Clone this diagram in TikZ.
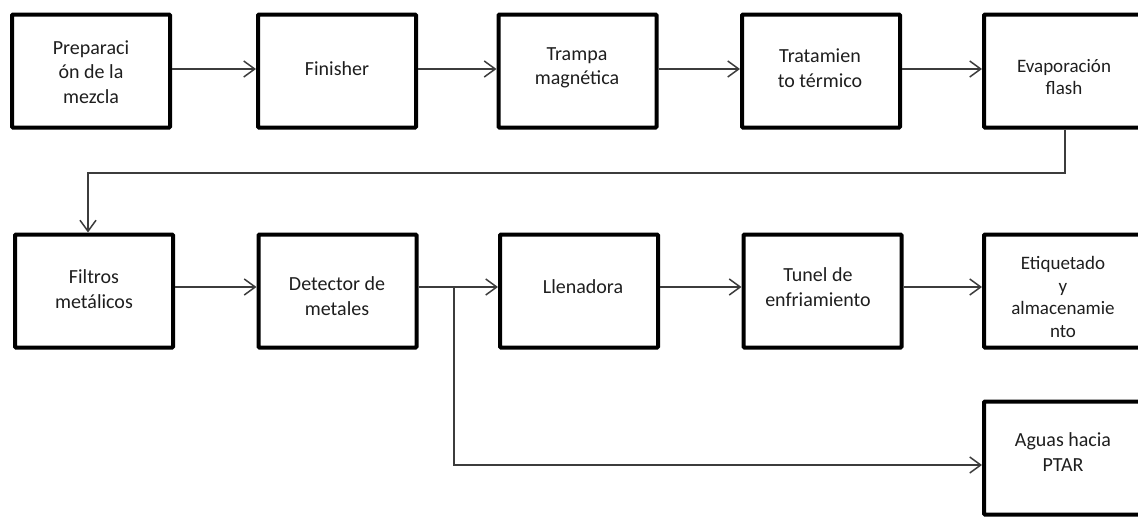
\documentclass[tikz,border=0pt]{standalone}
\usepackage{fontspec}
\setmainfont{Carlito}
\usetikzlibrary{arrows.meta}
\definecolor{linegray}{HTML}{3C3C3C}
\definecolor{inkgray}{HTML}{1E1E1E}
\begin{document}
\begin{tikzpicture}[x=1pt,y=-1pt,
  procbox/.style={draw=black, line width=4pt, rounded corners=1pt,
    minimum width=158pt, minimum height=113pt, inner sep=0pt},
  lbl/.style={align=center, text=inkgray, inner sep=0pt,
    font=\fontsize{20}{24.5}\selectfont},
  smalllbl/.style={lbl, font=\fontsize{19}{22.5}\selectfont},
  flow/.style={draw=linegray, line width=1.5pt,
    -{Straight Barb[length=11pt,width=16pt,line width=1.5pt]}},
  plain/.style={draw=linegray, line width=1.5pt}]
  \useasboundingbox (0,0) rectangle (1138,517);

  % first row of process boxes
  \node[procbox] (prep) at (91,71) {};
  \node[procbox] (fin)  at (337,71) {};
  \node[procbox] (tram) at (577.5,71) {};
  \node[procbox] (trat) at (821,71) {};
  \node[procbox] (evap) at (1063,71) {};

  % second row
  \node[procbox] (filt) at (94,291) {};
  \node[procbox] (det)  at (337.5,291) {};
  \node[procbox] (llen) at (579,291) {};
  \node[procbox] (tun)  at (822.5,291) {};
  \node[procbox] (etiq) at (1063,291) {};

  % third row
  \node[procbox] (agua) at (1063,458) {};

  % box captions
  \node[lbl] (prep-t) at (91,72) {Preparaci\\ón de la\\mezcla};
  \node[lbl] (fin-t)  at (337,69) {Finisher};
  \node[lbl] (tram-t) at (577,68) {Trampa\\magnética};
  \node[lbl] (trat-t) at (820,68) {Tratamien\\to térmico};
  \node[smalllbl] (evap-t) at (1064,77) {Evaporación\\flash};
  \node[lbl] (filt-t) at (94,289) {Filtros\\metálicos};
  \node[lbl] (det-t)  at (337,296) {Detector de\\metales};
  \node[lbl] (llen-t) at (583,287) {Llenadora};
  \node[lbl] (tun-t)  at (818,287) {Tunel de\\enfriamiento};
  \node[smalllbl] (etiq-t) at (1063,297) {Etiquetado\\y\\almacenamie\\nto};
  \node[lbl] (agua-t) at (1063,452) {Aguas hacia\\PTAR};

  % first row connectors
  \draw[flow] ([yshift=2pt]prep.east) -- ([yshift=2pt]fin.west);
  \draw[flow] ([yshift=2pt]fin.east) -- ([yshift=2pt]tram.west);
  \draw[flow] ([yshift=2pt]tram.east) -- ([yshift=2pt]trat.west);
  \draw[flow] ([yshift=2pt]trat.east) -- ([yshift=2pt]evap.west);

  % return to the second row
  \coordinate (drop) at (1065,173);
  \coordinate (turn) at (88,173);
  \draw[flow] (drop |- evap.south) -- (drop) -- (turn) -- (turn |- filt.north);

  % second row connectors
  \coordinate (split) at (454,287);
  \draw[flow] ([yshift=4pt]filt.east) -- ([yshift=4pt]det.west);
  \draw[plain] ([yshift=4pt]det.east) -- (split);
  \draw[flow] (split) -- ([yshift=4pt]llen.west);
  \draw[flow] ([yshift=4pt]llen.east) -- ([yshift=4pt]tun.west);
  \draw[flow] ([yshift=4pt]tun.east) -- ([yshift=4pt]etiq.west);

  % branch to the treatment plant
  \coordinate (low) at (454,465);
  \draw[flow] (split) -- (low) -- (low -| agua.west);
\end{tikzpicture}
\end{document}
